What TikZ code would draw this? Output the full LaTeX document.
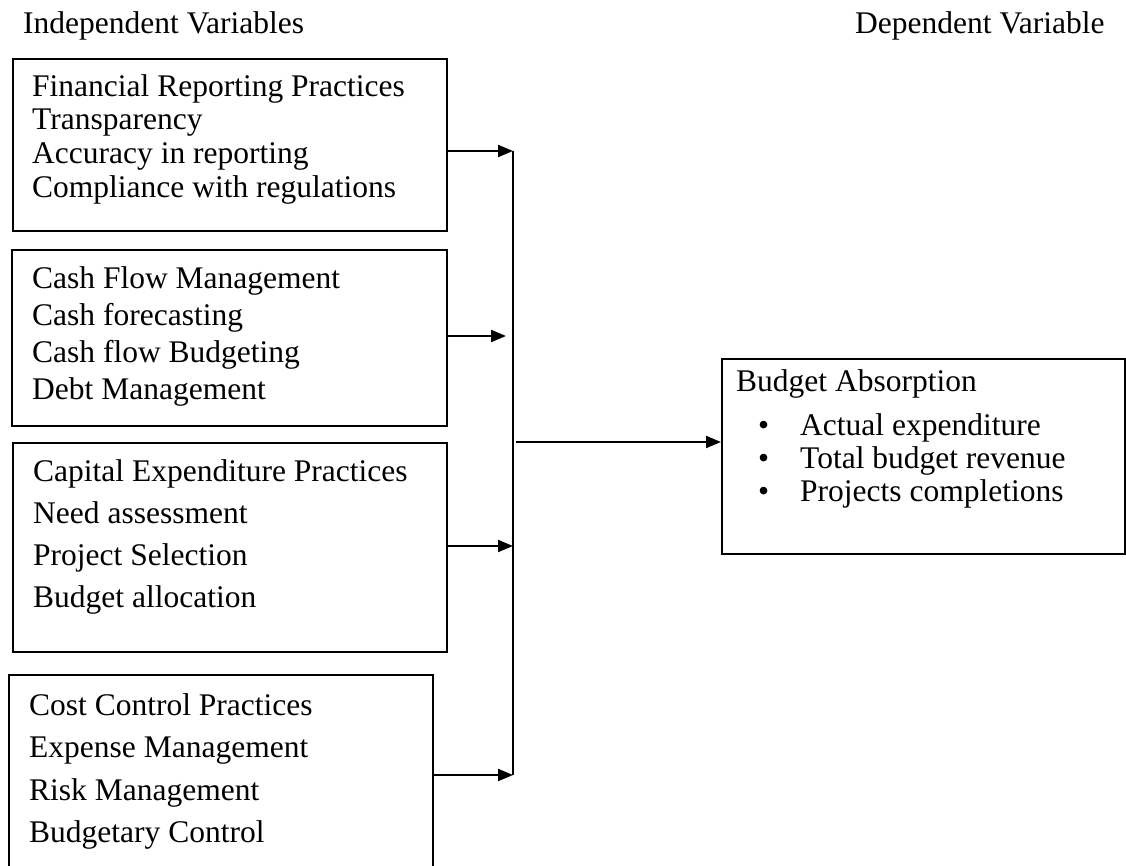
\documentclass[tikz,border=0pt]{standalone}
\usepackage{fontspec}
\setmainfont{Liberation Serif}
\usetikzlibrary{arrows.meta}
\begin{document}
\begin{tikzpicture}[x=1pt,y=-1pt,
  box/.style={draw=black,line width=1.8pt,anchor=north west,inner sep=0pt,minimum width=#1},
  txt/.style={anchor=base west,inner sep=0pt,font=\fontsize{31.5}{33}\selectfont},
  conn/.style={line width=2pt},
  arr/.style={line width=2pt,-{Triangle[length=15pt,width=12pt]}}]
\useasboundingbox (0,0) rectangle (1126,866);
% headings
\node[txt] (hind) at (23,34) {Independent Variables};
\node[txt] (hdep) at (855,34) {Dependent Variable};
% box 1
\node[box=434pt,minimum height=172pt] (b1) at (12,58) {};
\node[txt] (b1a) at (32,97) {Financial Reporting Practices};
\node[txt] (b1b) at (32,130) {Transparency};
\node[txt] (b1c) at (32,164) {Accuracy in reporting};
\node[txt] (b1d) at (32,198) {Compliance with regulations};
% box 2
\node[box=435pt,minimum height=176pt] (b2) at (11,249) {};
\node[txt] (b2a) at (32,289) {Cash Flow Management};
\node[txt] (b2b) at (32,326) {Cash forecasting};
\node[txt] (b2c) at (32,362) {Cash flow Budgeting};
\node[txt] (b2d) at (32,399) {Debt Management};
% box 3
\node[box=434pt,minimum height=209pt] (b3) at (12,442) {};
\node[txt] (b3a) at (33,481) {Capital Expenditure Practices};
\node[txt] (b3b) at (33,523) {Need assessment};
\node[txt] (b3c) at (33,565) {Project Selection};
\node[txt] (b3d) at (33,607) {Budget allocation};
% box 4
\node[box=424pt,minimum height=200pt] (b4) at (8,674) {};
\node[txt] (b4a) at (29,715) {Cost Control Practices};
\node[txt] (b4b) at (29,757) {Expense Management};
\node[txt] (b4c) at (29,800) {Risk Management};
\node[txt] (b4d) at (29,842) {Budgetary Control};
% dependent box
\node[box=403pt,minimum height=195pt] (dv) at (721,358) {};
\node[txt] (dva) at (736,391) {Budget Absorption};
\node[txt] (dvb1) at (758,435) {•};
\node[txt] (dvb) at (800,435) {Actual expenditure};
\node[txt] (dvc1) at (758,468) {•};
\node[txt] (dvc) at (800,468) {Total budget revenue};
\node[txt] (dvd1) at (758,501) {•};
\node[txt] (dvd) at (800,501) {Projects completions};
% connectors
\coordinate (vtop) at (513,151);
\coordinate (vbot) at (513,775);
\coordinate (v2) at (506,336);
\coordinate (v3) at (513,546);
\coordinate (mstart) at (516,442);
\draw[conn] (vtop) -- (vbot);
\draw[arr] (b1.east |- vtop) -- (vtop);
\draw[arr] (b2.east |- v2) -- (v2);
\draw[arr] (b3.east |- v3) -- (v3);
\draw[arr] (b4.east |- vbot) -- (vbot);
\draw[arr] (mstart) -- (mstart -| dv.west);
\end{tikzpicture}
\end{document}
